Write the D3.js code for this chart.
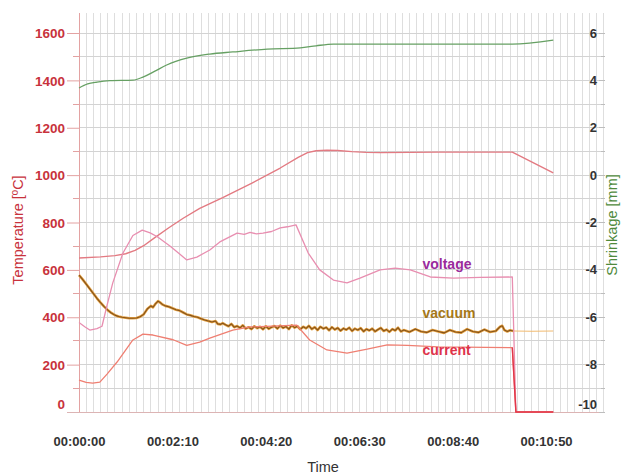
<!DOCTYPE html>
<html>
<head>
<meta charset="utf-8">
<script src="https://cdn.jsdelivr.net/npm/d3@7"></script>
<style>
  html, body { margin: 0; padding: 0; background: #fff; }
  svg { display: block; font-family: "Liberation Sans", Arial, Helvetica, sans-serif; }
</style>
</head>
<body>
<svg id="chart" width="624" height="474"></svg>
<script>
// ---- data (time in seconds) ----
const timeTicks = [0, 130, 260, 390, 520, 650];
const tempTicks = [0, 200, 400, 600, 800, 1000, 1200, 1400, 1600];
const shrinkTicks = [-10, -8, -6, -4, -2, 0, 2, 4, 6];

const temperature = [
  [0, 650], [30, 655], [50, 660], [65, 668], [78, 682], [90, 702], [105, 735],
  [125, 778], [145, 818], [168, 860], [200, 905], [240, 965], [280, 1030],
  [305, 1075], [318, 1095], [330, 1103], [345, 1105], [360, 1104], [380, 1099],
  [400, 1096], [420, 1095], [500, 1097], [603, 1097], [660, 1010]
];

const shrinkage = [
  [0, 3.68], [12, 3.85], [25, 3.93], [43, 3.99], [75, 4.01], [89, 4.14],
  [105, 4.38], [122, 4.65], [150, 4.94], [182, 5.11], [214, 5.20], [262, 5.32],
  [308, 5.37], [330, 5.46], [354, 5.53], [475, 5.53], [603, 5.53], [660, 5.70]
];

const voltage = [
  [0, 378], [8, 360], [15, 346], [25, 352], [32, 362], [39, 450], [47, 545],
  [61, 670], [75, 745], [88, 768], [99, 756], [109, 740], [127, 700], [150, 642],
  [164, 654], [182, 684], [196, 718], [220, 755], [230, 750], [238, 758],
  [247, 752], [256, 755], [268, 762], [280, 777], [290, 782], [302, 790],
  [319, 671], [335, 600], [354, 557], [373, 545], [391, 565], [419, 600],
  [440, 607], [461, 600], [489, 570], [521, 565], [558, 568], [603, 570],
  [608, 0], [660, 0]
];

const current = [
  [0, 135], [10, 125], [19, 122], [29, 126], [39, 160], [53, 211], [75, 304],
  [89, 329], [103, 325], [131, 305], [150, 281], [168, 295], [182, 312],
  [214, 346], [238, 359], [303, 367], [321, 304], [345, 262], [373, 249],
  [401, 265], [429, 283], [457, 281], [500, 275], [603, 272], [608, 0], [660, 0]
];

const vacuum = [
  [0, 578], [5, 560], [10, 540], [15, 520], [20, 500], [25, 480], [30, 462],
  [35, 445], [40, 430], [45, 418], [50, 409], [55, 403], [60, 400], [65, 398],
  [70, 396], [75, 396], [80, 397], [85, 402], [90, 412], [95, 435], [100, 448],
  [103, 442], [106, 455], [110, 468], [113, 462], [116, 454], [120, 448],
  [125, 444], [130, 438], [135, 432], [140, 428], [145, 420], [150, 412],
  [155, 408], [160, 403], [165, 400], [170, 394], [175, 388], [180, 384],
  [185, 380], [190, 384], [193, 372], [197, 370], [200, 375], [204, 368],
  [208, 362], [212, 372], [216, 358], [220, 363], [224, 355], [228, 366],
  [232, 352], [236, 358], [240, 350], [244, 362], [248, 354], [252, 360],
  [256, 349], [260, 362], [264, 351], [268, 358], [272, 363], [276, 352],
  [280, 365], [284, 355], [288, 361], [292, 350], [296, 366], [300, 356],
  [304, 362], [308, 349], [312, 360], [316, 353], [320, 364], [324, 350],
  [328, 358], [332, 346], [336, 360], [340, 352], [344, 357], [348, 345],
  [352, 358], [356, 348], [360, 355], [364, 343], [368, 353], [372, 347],
  [376, 356], [380, 342], [384, 352], [388, 346], [392, 354], [396, 340],
  [400, 350], [404, 344], [408, 352], [412, 340], [416, 348], [420, 355],
  [424, 342], [428, 348], [432, 338], [436, 350], [440, 344], [444, 356],
  [448, 340], [452, 346], [460, 338], [468, 350], [476, 340], [484, 336],
  [492, 346], [500, 340], [508, 334], [516, 346], [524, 338], [532, 335],
  [540, 350], [548, 340], [556, 336], [564, 348], [572, 338], [580, 342],
  [586, 360], [589, 364], [592, 346], [596, 340], [600, 345], [604, 342]
];
const vacuumTail = [[604, 342], [630, 341], [660, 342]];

// ---- layout ----
const svg = d3.select("#chart");
const plotLeft = 79, plotRight = 605, plotTop = 13, plotBottom = 412;

const x = d3.scaleLinear().domain([0, 732]).range([plotLeft, plotRight]);
const yT = d3.scaleLinear().domain([0, 1600]).range([plotBottom, 33]);
const yS = d3.scaleLinear().domain([-10, 6]).range([plotBottom, 33]);

const fmtTime = s => {
  const h = Math.floor(s / 3600), m = Math.floor((s % 3600) / 60), sec = s % 60;
  return [h, m, sec].map(v => String(v).padStart(2, "0")).join(":");
};

// ---- grid ----
const grid = svg.append("g");
grid.selectAll("line.v")
  .data(d3.range(10, 732, 10))
  .join("line")
  .attr("x1", d => x(d)).attr("x2", d => x(d))
  .attr("y1", plotTop).attr("y2", plotBottom)
  .attr("stroke", "#dedede").attr("stroke-width", 1)
  .attr("shape-rendering", "crispEdges");
grid.selectAll("line.h")
  .data(d3.range(100, 1700, 100))
  .join("line")
  .attr("x1", plotLeft).attr("x2", plotRight)
  .attr("y1", d => yT(d)).attr("y2", d => yT(d))
  .attr("stroke", "#d3d3d3").attr("stroke-width", 1)
  .attr("shape-rendering", "crispEdges");

// ---- left axis (temperature) ----
const gl = svg.append("g").attr("transform", `translate(${plotLeft},0)`);
gl.append("line").attr("y1", plotTop).attr("y2", plotBottom)
  .attr("stroke", "#e3a2a2").attr("shape-rendering", "crispEdges");
gl.selectAll("line.minor").data(d3.range(100, 1700, 200)).join("line")
  .attr("x1", -6).attr("x2", 0)
  .attr("y1", d => yT(d)).attr("y2", d => yT(d))
  .attr("stroke", "#e3a2a2").attr("shape-rendering", "crispEdges");
const axL = d3.axisLeft(yT).tickValues(tempTicks).tickFormat(d3.format("d"))
  .tickSize(12).tickPadding(2);
const gLeft = svg.append("g").attr("transform", `translate(${plotLeft},0)`).call(axL);
gLeft.select(".domain").remove();
gLeft.selectAll(".tick line").attr("stroke", "#e3a2a2");
gLeft.selectAll(".tick text")
  .attr("fill", "#c8323c").attr("font-size", 13.5).attr("font-weight", "bold")
  .attr("font-family", "Liberation Sans, Arial, sans-serif")
  .attr("dy", d => d === 0 ? "-0.25em" : "0.35em");

// ---- bottom axis ----
svg.append("line")
  .attr("x1", 67).attr("x2", plotRight)
  .attr("y1", plotBottom).attr("y2", plotBottom)
  .attr("stroke", "#dcb4b4").attr("shape-rendering", "crispEdges");
const axB = d3.axisBottom(x).tickValues(timeTicks).tickFormat(fmtTime).tickSize(0).tickPadding(25);
const gBottom = svg.append("g").attr("transform", `translate(0,${plotBottom})`).call(axB);
gBottom.select(".domain").remove();
gBottom.selectAll(".tick text")
  .attr("fill", "#333").attr("font-size", 13).attr("font-weight", "bold")
  .attr("font-family", "Liberation Sans, Arial, sans-serif");

// ---- right axis (shrinkage), labels drawn inside the frame ----
const gr = svg.append("g");
gr.selectAll("line").data(d3.range(-10, 7, 1)).join("line")
  .attr("x1", d => d % 2 === 0 ? 599 : 601).attr("x2", plotRight)
  .attr("y1", d => yS(d)).attr("y2", d => yS(d))
  .attr("stroke", "#bdbdbd").attr("shape-rendering", "crispEdges");
gr.selectAll("text").data(shrinkTicks).join("text")
  .attr("x", 597)
  .attr("y", d => yS(d))
  .attr("dy", d => d === -10 ? "-0.2em" : "0.35em")
  .attr("text-anchor", "end")
  .attr("fill", "#333").attr("font-size", 13).attr("font-weight", "bold")
  .text(d => d);

// ---- axis titles ----
svg.append("text")
  .attr("transform", `translate(23,230) rotate(-90)`)
  .attr("text-anchor", "middle")
  .attr("fill", "#c8323c").attr("font-size", 14.5)
  .text("Temperature [ºC]");
svg.append("text")
  .attr("transform", `translate(617,225) rotate(-90)`)
  .attr("text-anchor", "middle")
  .attr("fill", "#4f8a3c").attr("font-size", 14.5)
  .text("Shrinkage [mm]");
svg.append("text")
  .attr("x", 323).attr("y", 472)
  .attr("text-anchor", "middle")
  .attr("fill", "#333").attr("font-size", 14.5)
  .text("Time");

// ---- series ----
const lineS = d3.line().x(d => x(d[0])).y(d => yS(d[1])).curve(d3.curveMonotoneX);
const lineT = d3.line().x(d => x(d[0])).y(d => yT(d[1]));

const plot = svg.append("g");
plot.append("path").datum(shrinkage).attr("d", lineS)
  .attr("fill", "none").attr("stroke", "#66a063").attr("stroke-width", 1.3);
plot.append("path").datum(temperature).attr("d", lineT)
  .attr("fill", "none").attr("stroke", "#e37a82").attr("stroke-width", 1.4)
  .attr("stroke-linejoin", "round");

plot.append("path").datum(vacuumTail).attr("d", lineT)
  .attr("fill", "none").attr("stroke", "#f2bb70").attr("stroke-width", 1.1);
plot.append("path").datum(vacuum).attr("d", lineT)
  .attr("fill", "none").attr("stroke", "#e4a040").attr("stroke-width", 2.6)
  .attr("stroke-linejoin", "round");
plot.append("path").datum(vacuum).attr("d", lineT)
  .attr("fill", "none").attr("stroke", "#84521a").attr("stroke-width", 1.1)
  .attr("stroke-linejoin", "round");

plot.append("path").datum(voltage).attr("d", lineT)
  .attr("fill", "none").attr("stroke", "#e88eb0").attr("stroke-width", 1.3)
  .attr("stroke-linejoin", "round");
plot.append("path").datum(current).attr("d", lineT)
  .attr("fill", "none").attr("stroke", "#ef7f72").attr("stroke-width", 1.3)
  .attr("stroke-linejoin", "round");
// common drop to zero
plot.append("path").datum(current.slice(-3)).attr("d", lineT)
  .attr("fill", "none").attr("stroke", "#e2364a").attr("stroke-width", 1.4);

// ---- series labels ----
const labels = [
  { text: "voltage", color: "#9a2a9c", t: 478, v: 602 },
  { text: "vacuum",  color: "#a57818", t: 478, v: 398 },
  { text: "current", color: "#e0334a", t: 478, v: 241 }
];
svg.append("g").selectAll("text").data(labels).join("text")
  .attr("x", d => x(d.t)).attr("y", d => yT(d.v))
  .attr("fill", d => d.color).attr("font-size", 14).attr("font-weight", "bold")
  .text(d => d.text);
</script>
</body>
</html>
